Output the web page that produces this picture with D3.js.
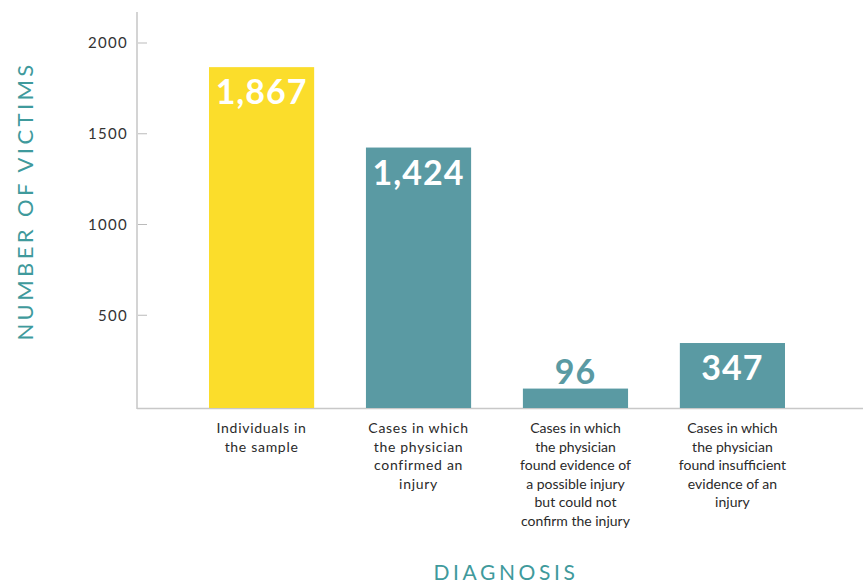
<!DOCTYPE html>
<html>
<head>
<meta charset="utf-8">
<script src="https://cdn.jsdelivr.net/npm/d3@7"></script>
<style>
  body { margin: 0; background: #fff; }
  text { font-family: Lato, "Open Sans", sans-serif; }
</style>
</head>
<body>
<div id="chart"></div>
<script>
var categories = [
  ["Individuals in", "the sample"],
  ["Cases in which", "the physician", "confirmed an", "injury"],
  ["Cases in which", "the physician", "found evidence of", "a possible injury", "but could not", "confirm the injury"],
  ["Cases in which", "the physician", "found insufficient", "evidence of an", "injury"]
];
var values = [1867, 1424, 96, 347];
var valueLabels = ["1,867", "1,424", "96", "347"];
var yTicks = [500, 1000, 1500, 2000];

var w = 865;
var h = 583;
var yellow = "#fbdd2b";
var teal = "#5a9aa3";
var titleColor = "#3f9a9c";

var svg = d3.select("#chart").append("svg").attr("width", w).attr("height", h);

var x = d3.scaleBand().domain(d3.range(values.length)).range([209, 785])
  .paddingInner(0.33).paddingOuter(0);
var y = d3.scaleLinear().domain([0, 2000]).range([406, 43]);

// axes lines
svg.append("line").attr("x1", 137).attr("x2", 137).attr("y1", 12).attr("y2", 409)
  .attr("stroke", "#b8b8b8").attr("stroke-width", 1.2);
svg.append("line").attr("x1", 137).attr("x2", 863).attr("y1", 408.5).attr("y2", 408.5)
  .attr("stroke", "#c8c8c8").attr("stroke-width", 1.5);

// y ticks
var ticks = svg.append("g").selectAll("g").data(yTicks).enter().append("g")
  .attr("transform", (d) => "translate(0," + y(d) + ")");
ticks.append("line").attr("x1", 138).attr("x2", 147).attr("stroke", "#bbb");
ticks.append("text").attr("x", 128).attr("dy", "0.35em").attr("text-anchor", "end")
  .attr("font-size", 15).attr("letter-spacing", 1.3).attr("fill", "#333")
  .text((d) => d);

// bars
svg.append("g").selectAll("rect").data(values).enter().append("rect")
  .attr("x", (d, i) => x(i))
  .attr("width", x.bandwidth())
  .attr("y", (d) => y(d))
  .attr("height", (d) => y(0) - y(d) + 2)
  .attr("fill", (d, i) => (i == 0 ? yellow : teal));

// value labels
svg.append("g").selectAll("text").data(values).enter().append("text")
  .attr("x", (d, i) => x(i) + x.bandwidth() / 2)
  .attr("y", (d) => (d < 200 ? y(d) - 5 : y(d) + 37))
  .attr("text-anchor", "middle")
  .attr("font-size", 34).attr("font-weight", "bold").attr("letter-spacing", 1)
  .attr("fill", (d) => (d < 200 ? teal : "#fff"))
  .text((d, i) => valueLabels[i]);

// category labels
var cats = svg.append("g").selectAll("text").data(categories).enter().append("text")
  .attr("text-anchor", "middle").attr("font-size", 14).attr("fill", "#2a2a2a")
  .attr("letter-spacing", (d, i) => (i < 2 ? 0.7 : 0));
cats.selectAll("tspan").data((d, i) => d.map((t) => ({ t: t, i: i }))).enter().append("tspan")
  .attr("x", (d) => x(d.i) + x.bandwidth() / 2)
  .attr("y", (d, j) => 433 + j * 18.5)
  .text((d) => d.t);

// axis titles
svg.append("text").attr("transform", "translate(33,201) rotate(-90)")
  .attr("text-anchor", "middle").attr("font-size", 22).attr("letter-spacing", 3.4)
  .attr("fill", titleColor).text("NUMBER OF VICTIMS");
svg.append("text").attr("x", 506).attr("y", 580)
  .attr("text-anchor", "middle").attr("font-size", 21).attr("letter-spacing", 3.6)
  .attr("fill", titleColor).text("DIAGNOSIS");
</script>
</body>
</html>
